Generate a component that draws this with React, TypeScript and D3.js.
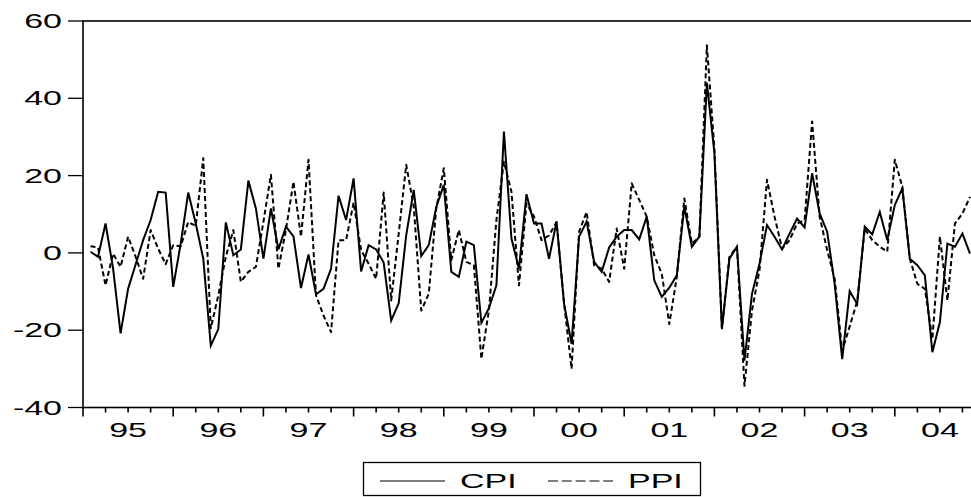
import React from 'react';
import * as d3 from 'd3';

// monthly % changes, Feb 1995 .. Nov 2004 (month index 1 = Feb 1995)
const firstMonth = 1;
const cpi = [
  0.3, -1.0, 7.6, -4, -20.8, -9.3, -3, 3.3, 8.5, 15.8, 15.6,
  -8.8, 2.4, 15.6, 7.6, -1.5, -24, -19.7, 7.9, -0.6, 0.9, 18.7, 11.5,
  -1.5, 11.5, 0.9, 6.8, 4.3, -9.1, -0.4, -10.7, -9.3, -4.1, 14.8, 8.5,
  19.3, -4.8, 2.0, 0.9, -2.5, -17.5, -13, 4.6, 16.3, -0.8, 2.0, 11.9,
  17.6, -4.9, -6.2, 2.9, 2.0, -18.1, -14.3, -8.4, 31.4, 3.7, -4.1, 15.2,
  7.6, 7.6, -1.5, 8.1, -13.2, -23.5, 4.2, 8.1, -2.3, -4.9, 1.4, 4.2,
  5.9, 5.9, 3.5, 9.4, -7.1, -11.4, -9, -5.8, 12, 1.6, 4.2, 44,
  25.8, -19.7, -1.5, 1.6, -27.9, -10.6, -2.8, 7.2, 4.2, 0.9, 5.0, 8.9,
  6.6, 20.6, 10.2, 5.5, -8, -27.5, -9.9, -13.2, 6.8, 4.8, 10.6, 3.3,
  12.4, 16.7, -1.5, -3.2, -5.8, -25.7, -17.9, 2.4, 1.6, 5.0, -0.2,
];
const ppi = [
  1.7, 1.4, -8.4, -0.2, -3.6, 4.2, -1.0, -6.7, 5.9, 1.1, -2.9,
  2.0, 1.7, 8, 7, 24.5, -19.5, -11, -1, 5.9, -7.5, -4.9, -3.6,
  8, 20.2, -4.1, 6, 18.4, 4.2, 24.1, -11, -16.2, -20.5, 3.3, 3.3,
  13.0, 0.7, -2.8, -6.7, 15.6, -12.3, 5, 22.8, 12, -14.9, -10.6, 11.5,
  21.9, -1.9, 5.9, -2.3, -3.2, -27.4, -14.9, 8.5, 23.6, 15.8, -8.4, 12.8,
  9.4, 3.3, 4.5, 8.0, -13, -30, 5.5, 10.6, -3.2, -4.1, -7.5, 6.3,
  -4.1, 18, 13.7, 9.4, -0.6, -5.4, -18.4, -6.2, 14.1, 2.4, 4.2, 53.7,
  27, -19.5, -1, 1.6, -34.4, -14.9, -4.5, 18.9, 9.4, 1.1, 3.3, 7.6,
  8.5, 34, 9.4, 0.7, -6.7, -25.3, -19, -12.5, 6.3, 3.3, 1.6, 0.3,
  24.1, 17.1, -1.5, -8, -9.3, -22.3, 4.2, -12.3, 7.6, 10.2, 14.5,
];
const yearLabels = ['95', '96', '97', '98', '99', '00', '01', '02', '03', '04'];
const yTicks = [-40, -20, 0, 20, 40, 60];

const W = 971;
const H = 497;
const left = 83;
const top = 21;
const bottom = 407.5;
const font = '"Liberation Sans", Arial, sans-serif';
const stretch = 1.7;

const App: React.FC = () => {
  const x = d3.scaleLinear().domain([0, 120]).range([left, left + 90.2 * 10]);
  const y = d3.scaleLinear().domain([-40, 60]).range([bottom, top]);

  const line = d3
    .line<number>()
    .x((_, i) => x(firstMonth + i))
    .y(d => y(d));

  const quarterTicks = d3.range(0, 120, 3);

  return (
    <svg width={W} height={H} style={{ position: 'absolute', left: 0, top: 0, background: '#fff' }}>
      {/* frame */}
      <rect x={left} y={top} width={x(120) - left} height={bottom - top} fill="none" stroke="#000" strokeWidth={1.6} />

      {/* y axis */}
      {yTicks.map(t => (
        <g key={t}>
          <line x1={left - 15} x2={left} y1={y(t)} y2={y(t)} stroke="#000" strokeWidth={1.3} />
          <text
            transform={`translate(${left - 21},${y(t) + 7}) scale(${stretch},1)`}
            textAnchor="end"
            fontFamily={font}
            fontSize={20}
          >
            {t}
          </text>
        </g>
      ))}

      {/* x axis */}
      {quarterTicks.map(m => (
        <line
          key={m}
          x1={x(m)}
          x2={x(m)}
          y1={bottom}
          y2={bottom + (m % 12 === 0 ? 9 : 5)}
          stroke="#000"
          strokeWidth={1.6}
        />
      ))}
      {yearLabels.map((lab, i) => (
        <text
          key={lab}
          transform={`translate(${x(i * 12 + 6)},437) scale(${stretch},1)`}
          textAnchor="middle"
          fontFamily={font}
          fontSize={20}
        >
          {lab}
        </text>
      ))}

      {/* series */}
      <path d={line(ppi) ?? ''} fill="none" stroke="#000" strokeWidth={2} strokeDasharray="5,3" strokeLinejoin="round" />
      <path d={line(cpi) ?? ''} fill="none" stroke="#000" strokeWidth={2} strokeLinejoin="miter" />

      {/* legend */}
      <rect x={363.5} y={462.5} width={337} height={33} fill="#fff" stroke="#000" strokeWidth={1.3} />
      <line x1={380} x2={445} y1={481} y2={481} stroke="#000" strokeWidth={1.2} />
      <text transform={`translate(460,488) scale(${stretch},1)`} fontFamily={font} fontSize={20}>
        CPI
      </text>
      <line x1={548} x2={613} y1={481} y2={481} stroke="#000" strokeWidth={1.2} strokeDasharray="10,3.8" />
      <text transform={`translate(628,488) scale(${stretch},1)`} fontFamily={font} fontSize={20}>
        PPI
      </text>
    </svg>
  );
};

export default App;
